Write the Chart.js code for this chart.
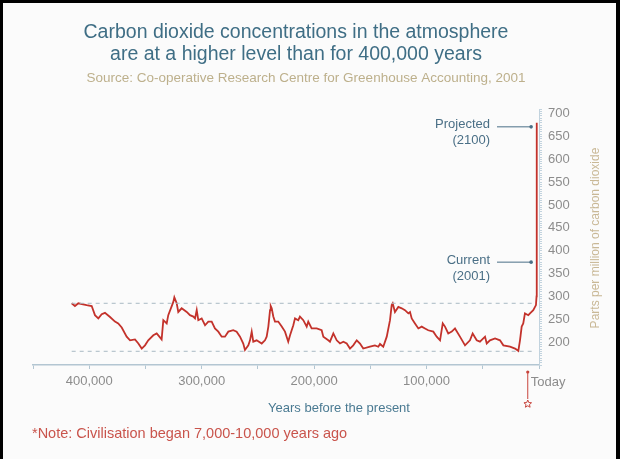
<!DOCTYPE html>
<html>
<head>
<meta charset="utf-8">
<script src="https://cdn.jsdelivr.net/npm/chart.js@4.4.0/dist/chart.umd.min.js"></script>
<style>
  html, body { margin: 0; padding: 0; background: #000; }
  canvas { display: block; }
</style>
</head>
<body>
<canvas id="co2Chart" width="620" height="459"></canvas>
<script>
// thousands of years before present
const co2Kyr = [
  415.6, 412.7, 409.7, 402.3, 397.8, 394.9, 391.9, 388.9, 386.0, 381.5,
  377.1, 374.2, 371.1, 366.7, 363.7, 359.3, 356.3, 353.3, 350.4, 347.5,
  343.0, 340.0, 335.6, 334.1, 331.1, 329.7, 325.2, 324.3, 322.2, 320.8,
  317.8, 313.3, 310.4, 307.4, 305.9, 304.4, 303.0, 300.0, 297.0, 294.1,
  291.1, 288.2, 285.2, 282.2, 279.3, 276.3, 271.9, 268.9, 265.9, 263.0,
  261.5, 258.5, 257.0, 255.5, 254.1, 251.1, 246.6, 243.7, 242.2, 240.7,
  239.2, 238.6, 237.7, 236.3, 234.8, 231.9, 228.8, 225.9, 223.0, 221.4,
  218.5, 217.0, 214.1, 212.6, 209.6, 206.6, 205.2, 202.2, 197.7, 193.3,
  191.8, 187.4, 185.9, 182.9, 179.9, 177.0, 174.0, 171.0, 168.1, 165.2,
  162.1, 159.2, 156.3, 150.3, 145.9, 142.9, 141.4, 138.5, 135.4, 132.5,
  131.0, 130.1, 128.1, 125.1, 122.1, 119.2, 116.2, 114.7, 113.2, 110.3,
  107.3, 104.3, 101.4, 98.5, 94.0, 91.0, 88.0, 85.6, 83.6, 80.7,
  77.6, 74.7, 70.3, 65.8, 61.4, 59.0, 55.4, 52.5, 48.0, 46.5,
  43.6, 39.1, 34.7, 31.7, 25.8, 21.3, 18.4, 16.9, 15.4, 14.0,
  12.5, 9.5, 8.0, 5.1, 2.7, 2.2, 2.0, 2.0
];
// parts per million
const co2Ppm = [
  285, 279, 285, 281, 279, 259, 252, 261, 264, 255,
  245, 241, 232, 212, 204, 206, 197, 186, 193, 204,
  215, 219, 206, 248, 241, 259, 288, 298, 285, 266,
  274, 266, 259, 256, 252, 270, 248, 252, 237, 245,
  245, 230, 223, 212, 212, 223, 226, 223, 212, 197,
  183, 193, 204, 223, 201, 204, 197, 204, 212, 234,
  270, 279, 274, 256, 245, 245, 234, 223, 201, 215,
  237, 252, 248, 256, 248, 234, 245, 230, 230, 226,
  212, 204, 201, 219, 204, 197, 201, 197, 186, 193,
  204, 197, 186, 190, 193, 190, 196, 190, 212, 248,
  281, 285, 266, 277, 274, 270, 263, 266, 252, 241,
  230, 234, 230, 226, 223, 212, 204, 241, 234, 219,
  223, 230, 212, 193, 204, 219, 204, 201, 212, 197,
  204, 208, 204, 193, 190, 186, 181, 204, 234, 241,
  263, 259, 263, 270, 281, 300, 375, 680
];

// dashed guide lines (upper and lower range of the natural cycle)
const guideKyr = [415.6, 3];
const guideHigh = [285, 285];
const guideLow = [180, 180];

const xTickStep = 50;     // kyr
const yTickStep = 5;      // ppm, minor marks on the right axis
const yLabelStep = 50;
const projectedPpm = 671;
const currentPpm = 375;
const civilisationKyr = 10;

const FONT = "'Liberation Sans', Arial, Helvetica, sans-serif";

const toPoints = (xs, ys) => xs.map((x, i) => ({ x: x, y: ys[i] }));

const frame = {
  id: "frame",
  beforeDraw(chart) {
    const ctx = chart.ctx;
    ctx.save();
    ctx.fillStyle = "#000";
    ctx.fillRect(0, 0, chart.width, chart.height);
    ctx.fillStyle = "#fbfbfb";
    ctx.fillRect(3, 3, 613, 456);
    ctx.restore();
  }
};

function star(ctx, cx, cy, r) {
  ctx.beginPath();
  for (let i = 0; i < 10; i++) {
    const a = -Math.PI / 2 + i * Math.PI / 5;
    const rr = i % 2 === 0 ? r : r * 0.45;
    ctx.lineTo(cx + rr * Math.cos(a), cy + rr * Math.sin(a));
  }
  ctx.closePath();
  ctx.stroke();
}

const labels = {
  id: "labels",
  afterDraw(chart) {
    const ctx = chart.ctx;
    const xs = chart.scales.x;
    const ys = chart.scales.y;
    ctx.save();
    ctx.textBaseline = "middle";

    // heading
    ctx.textAlign = "center";
    ctx.fillStyle = "#3f6e85";
    ctx.font = "19.5px " + FONT;
    ctx.fillText("Carbon dioxide concentrations in the atmosphere", 296, 33);
    ctx.fillText("are at a higher level than for 400,000 years", 296, 55);
    ctx.fillStyle = "#bdb08c";
    ctx.font = "13.5px " + FONT;
    ctx.fillText("Source: Co-operative Research Centre for Greenhouse Accounting, 2001", 306, 78);

    // projected / current callouts
    const tipX = xs.getPixelForValue(7);
    ctx.fillStyle = "#4a6f86";
    ctx.strokeStyle = "#4a6f86";
    ctx.lineWidth = 1;
    ctx.font = "13px " + FONT;
    ctx.textAlign = "right";
    [[projectedPpm, "Projected", "(2100)"], [currentPpm, "Current", "(2001)"]].forEach(c => {
      const py = ys.getPixelForValue(c[0]);
      ctx.fillText(c[1], 490, py - 2);
      ctx.fillText(c[2], 490, py + 14);
      ctx.beginPath();
      ctx.moveTo(497, py);
      ctx.lineTo(tipX, py);
      ctx.stroke();
      ctx.beginPath();
      ctx.arc(tipX, py, 1.8, 0, Math.PI * 2);
      ctx.fill();
    });

    // axis titles
    ctx.textAlign = "center";
    ctx.fillStyle = "#4a7a92";
    ctx.font = "13px " + FONT;
    ctx.fillText("Years before the present", 339, 408);

    ctx.save();
    ctx.translate(596, 238);
    ctx.rotate(-Math.PI / 2);
    ctx.fillStyle = "#c9b896";
    ctx.font = "12px " + FONT;
    ctx.fillText("Parts per million of carbon dioxide", 0, 0);
    ctx.restore();

    // civilisation marker
    const cx = xs.getPixelForValue(civilisationKyr);
    ctx.strokeStyle = "#c8443c";
    ctx.fillStyle = "#c8443c";
    ctx.beginPath();
    ctx.moveTo(cx, 371);
    ctx.lineTo(cx, 399);
    ctx.stroke();
    ctx.beginPath();
    ctx.arc(cx, 372, 1.6, 0, Math.PI * 2);
    ctx.fill();
    star(ctx, cx, 404, 4);
    ctx.textAlign = "left";
    ctx.fillStyle = "#8c8c8c";
    ctx.font = "13px " + FONT;
    ctx.fillText("Today", cx + 3, 382);

    // note
    ctx.fillStyle = "#c9544c";
    ctx.font = "14.5px " + FONT;
    ctx.fillText("*Note: Civilisation began 7,000-10,000 years ago", 32, 434);
    ctx.restore();
  }
};

new Chart(document.getElementById("co2Chart"), {
  type: "line",
  data: {
    datasets: [
      {
        data: toPoints(guideKyr, guideHigh),
        borderColor: "#a9bac4",
        borderWidth: 1,
        borderDash: [4, 4],
        pointRadius: 0
      },
      {
        data: toPoints(guideKyr, guideLow),
        borderColor: "#a9bac4",
        borderWidth: 1,
        borderDash: [4, 4],
        pointRadius: 0
      },
      {
        data: toPoints(co2Kyr, co2Ppm),
        borderColor: "#c3322b",
        borderWidth: 1.8,
        pointRadius: 0,
        tension: 0
      }
    ]
  },
  options: {
    responsive: false,
    animation: false,
    layout: { padding: { top: 109, left: 33, right: 0, bottom: 0 } },
    plugins: { legend: { display: false }, tooltip: { enabled: false } },
    scales: {
      x: {
        type: "linear",
        reverse: true,
        min: 0,
        max: 450,
        afterFit: (s) => { s.height = 94; },
        border: { color: "#b3c6d2", width: 1.5 },
        grid: { drawOnChartArea: false, tickLength: 4, color: "#b3c6d2" },
        ticks: {
          stepSize: xTickStep,
          padding: 5,
          color: "#8c8c8c",
          font: { family: FONT, size: 13 },
          callback: (v) => (v > 0 && v < 450 && v % 100 === 0) ? (v * 1000).toLocaleString("en-US") : ""
        }
      },
      y: {
        position: "right",
        min: 150,
        max: 710,
        afterFit: (s) => { s.width = 81; },
        border: { color: "#c2d3de", width: 1 },
        grid: { drawOnChartArea: false, tickLength: 3, color: "#c2d3de" },
        ticks: {
          stepSize: yTickStep,
          maxTicksLimit: 200,
          autoSkip: false,
          padding: 6,
          color: "#8c8c8c",
          font: { family: FONT, size: 13 },
          callback: (v) => (v >= 200 && v <= 700 && v % yLabelStep === 0) ? String(v) : ""
        }
      }
    }
  },
  plugins: [frame, labels]
});
</script>
</body>
</html>
